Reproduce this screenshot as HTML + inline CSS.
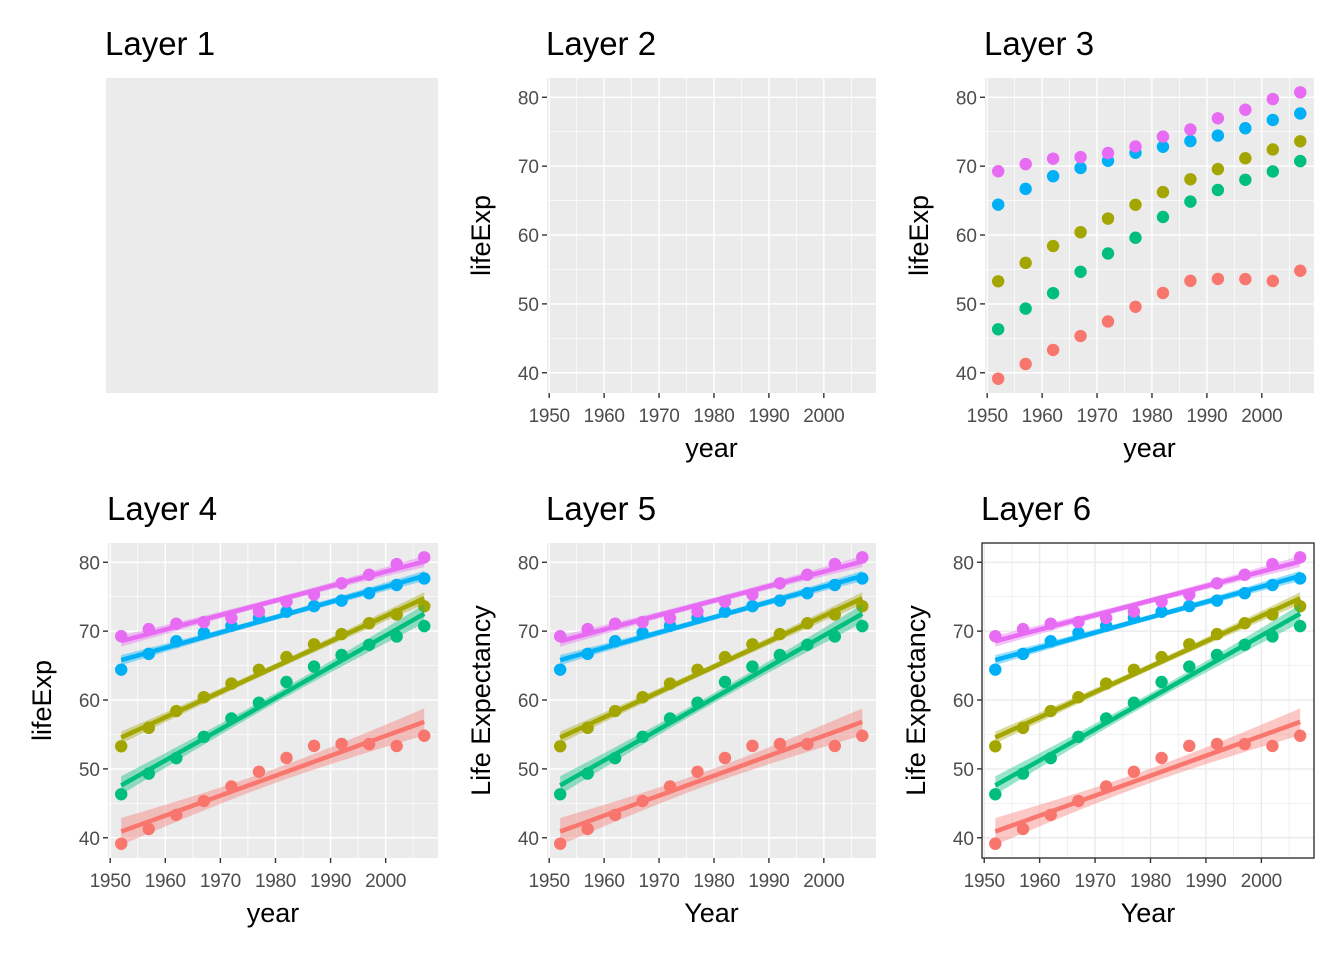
<!DOCTYPE html>
<html><head><meta charset="utf-8"><style>
body{margin:0;background:#fff;}
svg{display:block;font-family:"Liberation Sans",Arial,sans-serif;}
</style></head><body>
<svg id="c" width="1344" height="960" viewBox="0 0 1344 960"></svg>
<script>
const years=[1952,1957,1962,1967,1972,1977,1982,1987,1992,1997,2002,2007];
const continents=["Africa","Americas","Asia","Europe","Oceania"];
const colors=["#F8766D","#A3A500","#00BF7D","#00B0F6","#E76BF3"];
const africa=[39.14,41.27,43.32,45.33,47.45,49.58,51.59,53.34,53.63,53.60,53.33,54.81];
const americas=[53.28,55.96,58.40,60.41,62.39,64.39,66.23,68.09,69.57,71.15,72.42,73.61];
const asia=[46.31,49.32,51.56,54.66,57.32,59.61,62.62,64.85,66.54,68.02,69.23,70.73];
const europe=[64.41,66.70,68.54,69.74,70.78,71.94,72.81,73.64,74.44,75.51,76.70,77.65];
const oceania=[69.26,70.30,71.09,71.31,71.91,72.86,74.29,75.32,76.95,78.19,79.74,80.72];
const series=[africa,americas,asia,europe,oceania];
const xTicks=[1950,1960,1970,1980,1990,2000];
const yTicks=[40,50,60,70,80];

const NS="http://www.w3.org/2000/svg";
const svg=document.getElementById('c');
function mk(tag,attrs,parent){const e=document.createElementNS(NS,tag);for(const k in attrs)e.setAttribute(k,attrs[k]);(parent||svg).appendChild(e);return e;}

const allY=series.flat();
const yMin=Math.min(...allY),yMax=Math.max(...allY);
const xMin=Math.min(...years),xMax=Math.max(...years);
const xLo=xMin-2.4,xHi=xMax+2.5;
const yLo=yMin-(yMax-yMin)*0.05,yHi=yMax+(yMax-yMin)*0.05;

const panels=[
 {t:"Layer 1",x0:106,x1:438,y0:78,y1:393,mode:0},
 {t:"Layer 2",x0:547,x1:876,y0:78,y1:393,mode:1,xl:"year",yl:"lifeExp"},
 {t:"Layer 3",x0:985,x1:1314,y0:78,y1:393,mode:2,xl:"year",yl:"lifeExp"},
 {t:"Layer 4",x0:108,x1:438,y0:543,y1:858,mode:3,xl:"year",yl:"lifeExp"},
 {t:"Layer 5",x0:547,x1:876,y0:543,y1:858,mode:3,xl:"Year",yl:"Life Expectancy"},
 {t:"Layer 6",x0:982,x1:1314,y0:543,y1:858,mode:3,xl:"Year",yl:"Life Expectancy",bw:true}
];

function fit(xs,ys){const n=xs.length;const mx=xs.reduce((a,b)=>a+b)/n,my=ys.reduce((a,b)=>a+b)/n;
 let sxx=0,sxy=0;for(let i=0;i<n;i++){sxx+=(xs[i]-mx)**2;sxy+=(xs[i]-mx)*(ys[i]-my);}
 const b=sxy/sxx,a=my-b*mx;let sse=0;for(let i=0;i<n;i++)sse+=(ys[i]-a-b*xs[i])**2;
 const s=Math.sqrt(sse/(n-2));return {a,b,s,mx,sxx,n};}

panels.forEach((p,pi)=>{
 const g=mk('g',{});
 
 
 const title=mk('text',{x:p.x0-1,y:p.y0-23,'font-size':33,fill:'#000'},g);title.textContent=p.t;
 
 
 const bg=mk('rect',{x:p.x0,y:p.y0,width:p.x1-p.x0,height:p.y1-p.y0,fill:p.bw?'#fff':'#EBEBEB'},g);
 
 
 if(p.mode===0)return;
 const sx=v=>p.x0+(v-xLo)/(xHi-xLo)*(p.x1-p.x0);
 const sy=v=>p.y1-(v-yLo)/(yHi-yLo)*(p.y1-p.y0);
 const gc=p.bw?'#EBEBEB':'#fff';
 for(let v=1955;v<=2005;v+=10)mk('line',{x1:sx(v),x2:sx(v),y1:p.y0,y2:p.y1,stroke:gc,'stroke-width':0.7},g);
 for(let v=45;v<=75;v+=10)mk('line',{x1:p.x0,x2:p.x1,y1:sy(v),y2:sy(v),stroke:gc,'stroke-width':0.7},g);
 xTicks.forEach(v=>{mk('line',{x1:sx(v),x2:sx(v),y1:p.y0,y2:p.y1,stroke:gc,'stroke-width':1.4},g);
  mk('line',{x1:sx(v),x2:sx(v),y1:p.y1,y2:p.y1+5,stroke:'#333','stroke-width':1.4},g);
  const t=mk('text',{x:sx(v),y:p.y1+29,'font-size':19,fill:'#4D4D4D','text-anchor':'middle','letter-spacing':-0.3},g);t.textContent=v;
  
  });
 yTicks.forEach(v=>{mk('line',{x1:p.x0,x2:p.x1,y1:sy(v),y2:sy(v),stroke:gc,'stroke-width':1.4},g);
  mk('line',{x1:p.x0-5,x2:p.x0,y1:sy(v),y2:sy(v),stroke:'#333','stroke-width':1.4},g);
  const t=mk('text',{x:p.x0-8,y:sy(v)+7,'font-size':19,fill:'#4D4D4D','text-anchor':'end'},g);t.textContent=v;
  
  });
 const xt=mk('text',{x:(p.x0+p.x1)/2,y:p.y1+64,'font-size':27,fill:'#000','text-anchor':'middle'},g);xt.textContent=p.xl;
 
 
 const yx=p.x0-57,yc=(p.y0+p.y1)/2;
 const yt=mk('text',{x:yx,y:yc,'font-size':27,fill:'#000','text-anchor':'middle',transform:`rotate(-90 ${yx} ${yc})`},g);yt.textContent=p.yl;
 
 
 if(p.mode>=2){
  series.forEach((ys,si)=>{
   ys.forEach((v,i)=>{const c=mk('circle',{cx:sx(years[i]),cy:sy(v),r:6.2,fill:colors[si]},g);
    
    });
  });
 }
 if(p.mode===3){
  series.forEach((ys,si)=>{
   const f=fit(years,ys);const tq=2.228;const up=[],lo=[],ln=[];
   for(let k=0;k<=40;k++){const x=xMin+(xMax-xMin)*k/40;const yh=f.a+f.b*x;
    const se=f.s*Math.sqrt(1/f.n+(x-f.mx)**2/f.sxx);
    up.push(sx(x)+','+sy(yh+tq*se));lo.unshift(sx(x)+','+sy(yh-tq*se));ln.push(sx(x)+','+sy(yh));}
   const rb=mk('polygon',{points:up.concat(lo).join(' '),fill:colors[si],'fill-opacity':0.4},g);
   
   
   const l=mk('polyline',{points:ln.join(' '),fill:'none',stroke:colors[si],'stroke-width':4.5},g);
   
   
  });
 }
 if(p.bw)mk('rect',{x:p.x0,y:p.y0,width:p.x1-p.x0,height:p.y1-p.y0,fill:'none',stroke:'#333','stroke-width':1.4},g);
});
</script>
</body></html>
